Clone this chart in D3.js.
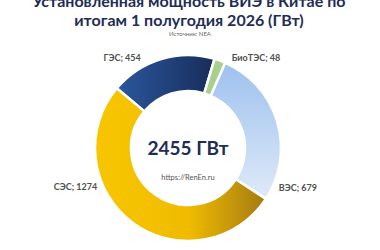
<!DOCTYPE html>
<html>
<head>
<meta charset="utf-8">
<script src="https://cdn.jsdelivr.net/npm/d3@7"></script>
<style>
    html, body { margin: 0; padding: 0; background: #fff; }
    #chart { width: 380px; height: 250px; }
    text { font-family: "Lato", "Open Sans", sans-serif; }
</style>
</head>
<body>
<div id="chart"></div>
<script>
const titleLines = ["Установленная мощность ВИЭ в Китае по", "итогам 1 полугодия 2026 (ГВт)"];
const sourceText = "Источник: NEA";
const siteText = "https://RenEn.ru";
const categories = ["ГЭС", "БиоТЭС", "ВЭС", "СЭС"];
const values = [454, 48, 679, 1274];
const unit = "ГВт";

(function () {
    "use strict";

    const width = 380, height = 250;
    const cx = 188, cy = 148;
    const outerR = 93, innerR = 57;
    const startDeg = -50;

    // angle (deg, clockwise from top) and radius for each outside label
    const labelPolar = {
        "ГЭС": [-36, 112],
        "БиоТЭС": [37, 113],
        "ВЭС": [110, 117],
        "СЭС": [-109, 119]
    };

    const svg = d3.select("#chart").append("svg")
        .attr("width", width)
        .attr("height", height);

    const defs = svg.append("defs");

    function linear(id, x1, y1, x2, y2, stops) {
        const g = defs.append("linearGradient")
            .attr("id", id)
            .attr("x1", x1).attr("y1", y1)
            .attr("x2", x2).attr("y2", y2);
        stops.forEach(s => g.append("stop")
            .attr("offset", s[0])
            .attr("stop-color", s[1]));
    }

    linear("g-hydro", 0, 0, 1, 0, [[0, "#2b579e"], [1, "#172d5a"]]);
    linear("g-bio", 0, 0, 1, 0, [[0, "#a8d08d"], [1, "#a8d08d"]]);
    linear("g-wind", 0, 0, 0, 1, [[0, "#9dc1ee"], [1, "#dfeaf8"]]);
    linear("g-solar", 0, 0, 1, 0, [[0, "#f8c600"], [0.55, "#f0bb00"], [1, "#a47a12"]]);

    const fills = {
        "ГЭС": "url(#g-hydro)",
        "БиоТЭС": "url(#g-bio)",
        "ВЭС": "url(#g-wind)",
        "СЭС": "url(#g-solar)"
    };

    const data = categories.map((c, i) => ({ name: c, value: values[i] }));

    const start = startDeg * Math.PI / 180;
    const pie = d3.pie()
        .sort(null)
        .value(d => d.value)
        .startAngle(start)
        .endAngle(start + 2 * Math.PI);

    const arc = d3.arc()
        .innerRadius(innerR)
        .outerRadius(outerR);

    const ring = svg.append("g")
        .attr("transform", `translate(${cx},${cy})`);

    ring.selectAll("path")
        .data(pie(data))
        .enter()
        .append("path")
        .attr("d", arc)
        .attr("fill", d => fills[d.data.name])
        .attr("stroke", "#fff")
        .attr("stroke-width", 2.5);

    ring.selectAll(".label")
        .data(data)
        .enter()
        .append("text")
        .attr("class", "label")
        .attr("x", d => Math.sin(labelPolar[d.name][0] * Math.PI / 180) * labelPolar[d.name][1])
        .attr("y", d => -Math.cos(labelPolar[d.name][0] * Math.PI / 180) * labelPolar[d.name][1])
        .attr("dy", "0.35em")
        .attr("text-anchor", "middle")
        .attr("fill", "#505050")
        .style("font-size", "9px")
        .style("font-weight", "bold")
        .text(d => `${d.name}; ${d.value}`);

    const total = d3.sum(values);

    ring.append("text")
        .attr("y", 7)
        .attr("text-anchor", "middle")
        .attr("fill", "#1f2d55")
        .style("font-size", "19px")
        .style("font-weight", "bold")
        .text(`${total} ${unit}`);

    ring.append("text")
        .attr("y", 32)
        .attr("text-anchor", "middle")
        .attr("fill", "#555")
        .style("font-size", "7.5px")
        .text(siteText);

    svg.selectAll(".title")
        .data(titleLines)
        .enter()
        .append("text")
        .attr("class", "title")
        .attr("x", 189)
        .attr("y", (d, i) => 7 + i * 19)
        .attr("text-anchor", "middle")
        .attr("fill", "#1f2d55")
        .style("font-size", "16px")
        .style("font-weight", "bold")
        .text(d => d);

    svg.append("text")
        .attr("x", 190)
        .attr("y", 36)
        .attr("text-anchor", "middle")
        .attr("fill", "#666")
        .style("font-size", "6px")
        .text(sourceText);
}());
</script>
</body>
</html>
